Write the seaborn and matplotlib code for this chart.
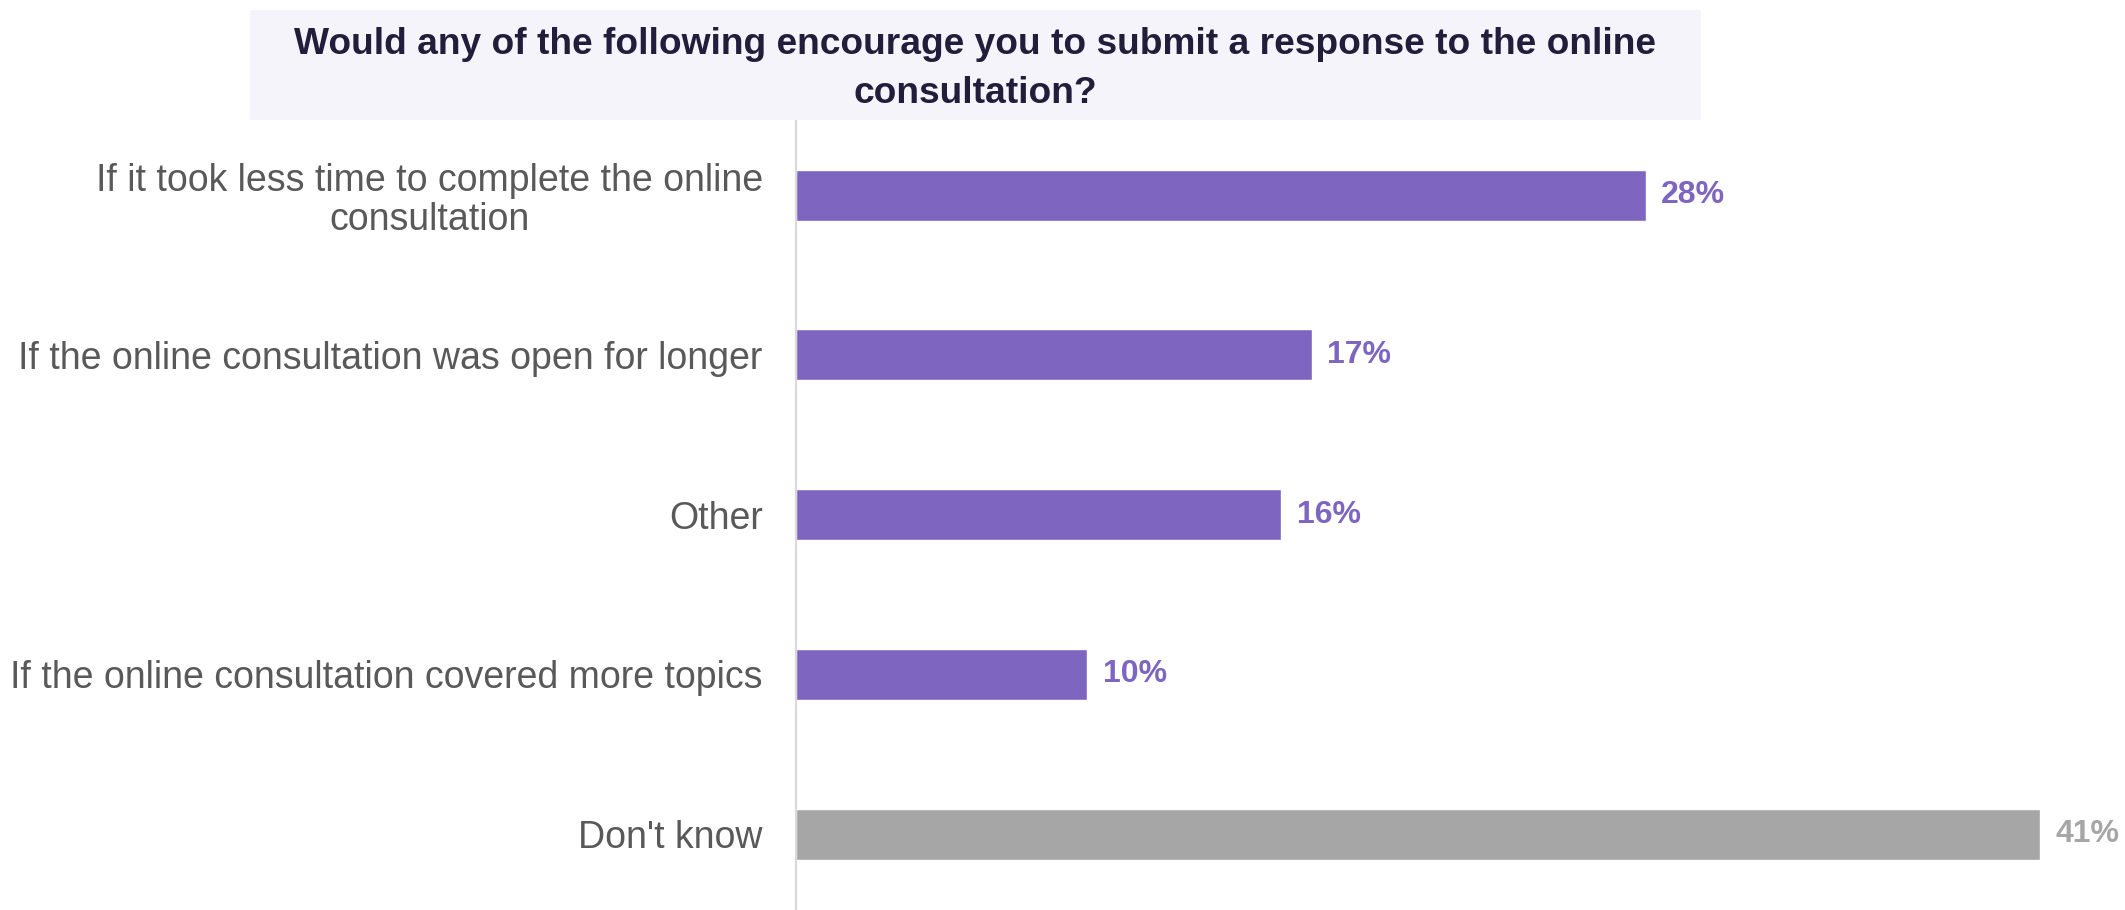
import matplotlib
matplotlib.use("Agg")
import matplotlib.pyplot as plt
import seaborn as sns
import pandas as pd
from matplotlib.patches import Rectangle

categories = [
    "If it took less time to complete the online\nconsultation",
    "If the online consultation was open for longer",
    "Other",
    "If the online consultation covered more topics",
    "Don't know",
]
values = [28, 17, 16, 9.6, 41]
value_labels = ["28%", "17%", "16%", "10%", "41%"]
title = "Would any of the following encourage you to submit a response to the online\nconsultation?"

PURPLE = "#7E65C0"
GREY = "#A6A6A6"
bar_colors = [PURPLE, PURPLE, PURPLE, PURPLE, GREY]

sns.set_theme(style="white")
plt.rcParams["font.family"] = ["Liberation Sans", "DejaVu Sans"]

W, H = 2125, 910
fig = plt.figure(figsize=(W / 100, H / 100), dpi=100)
fig.patch.set_facecolor("white")

ax = fig.add_axes([796 / W, 0, 1329 / W, 790 / H])
df = pd.DataFrame({"cat": categories, "val": values})
sns.barplot(data=df, x="val", y="cat", hue="cat", palette=bar_colors,
            orient="h", width=0.32, legend=False, ax=ax, saturation=1)

ax.set_xlim(0, 43.8)
ax.set_ylim(4.475, -0.47)
ax.set_xlabel("")
ax.set_ylabel("")
ax.set_xticks([])
for s in ["top", "right", "bottom"]:
    ax.spines[s].set_visible(False)
ax.spines["left"].set_color("#D9D9D9")
ax.spines["left"].set_linewidth(1.5)
ax.tick_params(axis="y", length=0, pad=24, labelsize=27, labelcolor="#595959")
for lbl in ax.get_yticklabels():
    lbl.set_multialignment("center")
    lbl.set_linespacing(1.1)

for i, (v, t) in enumerate(zip(values, value_labels)):
    ax.annotate(t, xy=(v, i), xytext=(11, 0), textcoords="offset points",
                ha="left", va="center", fontsize=23, fontweight="bold",
                color=bar_colors[i])

fig.patches.append(Rectangle((250 / W, 1 - 120 / H), 1451 / W, 110 / H,
                             transform=fig.transFigure, facecolor="#F5F4FA",
                             edgecolor="none", zorder=0))
fig.text(975.5 / W, 1 - 69 / H, title, ha="center", va="center",
         fontsize=26.7, fontweight="bold", color="#211D3B", linespacing=1.55)

fig.savefig("out.png", dpi=100, facecolor="white")
